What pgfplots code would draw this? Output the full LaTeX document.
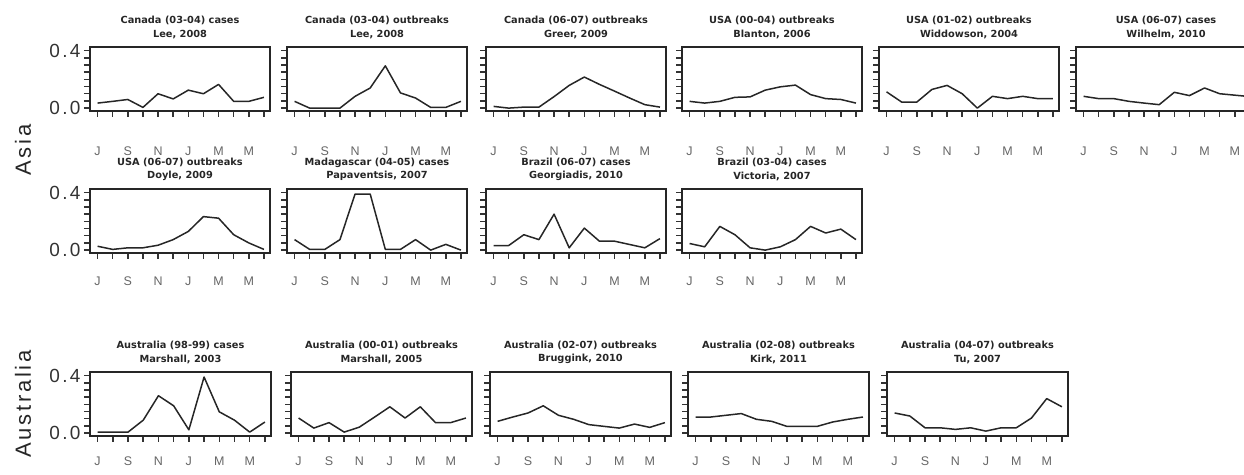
\documentclass[border=0pt]{standalone}
\usepackage{fontspec}
\setmainfont{Liberation Sans}
\newfontfamily\titlefont{DejaVu Sans}
\usepackage{pgfplots}
\pgfplotsset{compat=1.18}
\pgfplotsset{
  panel/.style={
    scale only axis, width=180pt, height=64pt,
    xmin=0.5, xmax=12.4, ymin=-0.02, ymax=0.425,
    anchor=north west,
    axis line style={line width=1.4pt, black!85},
    tick align=outside, xtick pos=bottom, ytick pos=left,
    xtick={1,2,3,4,5,6,7,8,9,10,11,12},
    xticklabels={J,,S,,N,,J,,M,,M,},
    ytick={0,0.05,0.1,0.15,0.2,0.25,0.3,0.35,0.4},
    yticklabels={},
    major tick length=6pt,
    tick style={line width=1.5pt, black!80},
    title style={at={(0.5,1)}, anchor=south, yshift=2pt, inner sep=0pt, align=center,
      font=\titlefont\bfseries\fontsize{9.8}{13.5}\selectfont, text=black!85},
    xticklabel style={font=\fontsize{12.5}{12.5}\selectfont, text=black!60},
    cycle list={{black!85, mark=none}},
    every axis plot post/.append style={line width=1.5pt, line join=round},
  },
  first/.style={yticklabels={{0.0},,,,,,,,{0.4}},
    yticklabel style={font=\fontsize{19}{19}\selectfont\addfontfeature{LetterSpace=12}, text=black!80}},
  rowone/.style={xticklabel style={yshift=-26pt}},
  rowtwo/.style={xticklabel style={yshift=-14pt}},
  rowthree/.style={width=181pt, xticklabel style={yshift=-11pt}},
}
\begin{document}
\begin{tikzpicture}
\path[use as bounding box] (0pt,0pt) rectangle (1244pt,474pt);
\node[rotate=90, font=\fontsize{22}{22}\selectfont\addfontfeature{LetterSpace=12}, text=black!85] at (23pt,324pt) {Asia};
\node[rotate=90, font=\fontsize{22}{22}\selectfont\addfontfeature{LetterSpace=12}, text=black!85] at (23pt,70pt) {Australia};
% ---------- row 1 ----------
\begin{axis}[panel, first, rowone, at={(90pt,427pt)}, title={Canada (03-04) cases\\Lee, 2008}]
\addplot coordinates {(1,0.035)(2,0.047)(3,0.06)(4,0.005)(5,0.1)(6,0.064)(7,0.125)(8,0.1)(9,0.165)(10,0.047)(11,0.047)(12,0.075)};
\end{axis}
\begin{axis}[panel, rowone, at={(287pt,427pt)}, title={Canada (03-04) outbreaks\\Lee, 2008}]
\addplot coordinates {(1,0.047)(2,0.0)(3,0.0)(4,0.0)(5,0.082)(6,0.14)(7,0.294)(8,0.106)(9,0.07)(10,0.005)(11,0.005)(12,0.047)};
\end{axis}
\begin{axis}[panel, rowone, at={(486pt,427pt)}, title={Canada (06-07) outbreaks\\Greer, 2009}]
\addplot coordinates {(1,0.012)(2,0.0)(3,0.007)(4,0.007)(5,0.08)(6,0.158)(7,0.216)(8,0.165)(9,0.118)(10,0.07)(11,0.024)(12,0.007)};
\end{axis}
\begin{axis}[panel, rowone, at={(682pt,427pt)}, title={USA (00-04) outbreaks\\Blanton, 2006}]
\addplot coordinates {(1,0.047)(2,0.035)(3,0.047)(4,0.075)(5,0.078)(6,0.125)(7,0.148)(8,0.16)(9,0.094)(10,0.066)(11,0.06)(12,0.035)};
\end{axis}
\begin{axis}[panel, rowone, at={(879pt,427pt)}, title={USA (01-02) outbreaks\\Widdowson, 2004}]
\addplot coordinates {(1,0.113)(2,0.042)(3,0.042)(4,0.13)(5,0.158)(6,0.1)(7,0.0)(8,0.082)(9,0.066)(10,0.082)(11,0.066)(12,0.066)};
\end{axis}
\begin{axis}[panel, rowone, at={(1076pt,427pt)}, title={USA (06-07) cases\\Wilhelm, 2010}]
\addplot coordinates {(1,0.082)(2,0.066)(3,0.066)(4,0.047)(5,0.035)(6,0.024)(7,0.11)(8,0.087)(9,0.14)(10,0.1)(11,0.09)(12,0.08)};
\end{axis}
% ---------- row 2 ----------
\begin{axis}[panel, first, rowtwo, at={(90pt,285pt)}, title={USA (06-07) outbreaks\\Doyle, 2009}]
\addplot coordinates {(1,0.027)(2,0.005)(3,0.016)(4,0.016)(5,0.034)(6,0.073)(7,0.13)(8,0.233)(9,0.222)(10,0.107)(11,0.05)(12,0.005)};
\end{axis}
\begin{axis}[panel, rowtwo, at={(287pt,285pt)}, title={Madagascar (04-05) cases\\Papaventsis, 2007}]
\addplot coordinates {(1,0.073)(2,0.005)(3,0.005)(4,0.073)(5,0.39)(6,0.39)(7,0.005)(8,0.005)(9,0.073)(10,0.0)(11,0.04)(12,0.0)};
\end{axis}
\begin{axis}[panel, rowtwo, at={(486pt,285pt)}, title={Brazil (06-07) cases\\Georgiadis, 2010}]
\addplot coordinates {(1,0.032)(2,0.032)(3,0.107)(4,0.073)(5,0.25)(6,0.016)(7,0.153)(8,0.062)(9,0.062)(10,0.039)(11,0.016)(12,0.08)};
\end{axis}
\begin{axis}[panel, rowtwo, at={(682pt,285pt)}, title={Brazil (03-04) cases\\Victoria, 2007}]
\addplot coordinates {(1,0.046)(2,0.023)(3,0.165)(4,0.107)(5,0.016)(6,0.0)(7,0.023)(8,0.073)(9,0.165)(10,0.119)(11,0.146)(12,0.073)};
\end{axis}
% ---------- row 3 ----------
\begin{axis}[panel, first, rowthree, at={(90pt,102pt)}, title={Australia (98-99) cases\\Marshall, 2003}]
\addplot coordinates {(1,0.007)(2,0.007)(3,0.007)(4,0.09)(5,0.26)(6,0.19)(7,0.023)(8,0.39)(9,0.148)(10,0.09)(11,0.007)(12,0.077)};
\end{axis}
\begin{axis}[panel, rowthree, at={(291pt,102pt)}, title={Australia (00-01) outbreaks\\Marshall, 2005}]
\addplot coordinates {(1,0.105)(2,0.035)(3,0.073)(4,0.007)(5,0.042)(6,0.112)(7,0.183)(8,0.105)(9,0.183)(10,0.073)(11,0.073)(12,0.105)};
\end{axis}
\begin{axis}[panel, rowthree, at={(490pt,102pt)}, title={Australia (02-07) outbreaks\\Bruggink, 2010}]
\addplot coordinates {(1,0.082)(2,0.112)(3,0.14)(4,0.19)(5,0.124)(6,0.096)(7,0.059)(8,0.047)(9,0.035)(10,0.063)(11,0.04)(12,0.073)};
\end{axis}
\begin{axis}[panel, rowthree, at={(688pt,102pt)}, title={Australia (02-08) outbreaks\\Kirk, 2011}]
\addplot coordinates {(1,0.112)(2,0.112)(3,0.124)(4,0.136)(5,0.096)(6,0.082)(7,0.047)(8,0.047)(9,0.047)(10,0.077)(11,0.096)(12,0.112)};
\end{axis}
\begin{axis}[panel, rowthree, at={(887pt,102pt)}, title={Australia (04-07) outbreaks\\Tu, 2007}]
\addplot coordinates {(1,0.14)(2,0.119)(3,0.037)(4,0.037)(5,0.026)(6,0.037)(7,0.014)(8,0.037)(9,0.037)(10,0.105)(11,0.24)(12,0.183)};
\end{axis}
\end{tikzpicture}
\end{document}
